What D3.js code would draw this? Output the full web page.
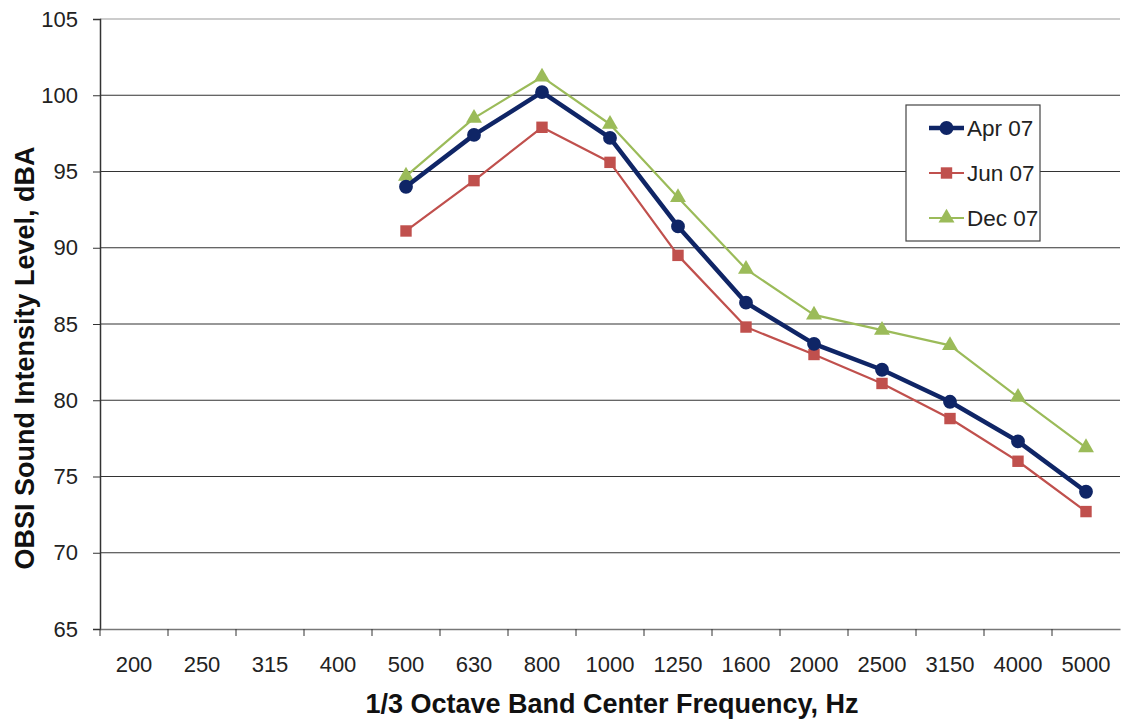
<!DOCTYPE html>
<html><head><meta charset="utf-8">
<script src="https://cdn.jsdelivr.net/npm/d3@7"></script>
<style>body{margin:0;background:#fff}svg{display:block;font-family:"Liberation Sans",Arial,sans-serif}</style>
</head><body><svg id="c" width="1121" height="722"></svg>
<script>
const categories = ["200","250","315","400","500","630","800","1000","1250","1600","2000","2500","3150","4000","5000"];
const yTicks = [65,70,75,80,85,90,95,100,105];
const apr07 = [null,null,null,null,94.0,97.4,100.2,97.2,91.4,86.4,83.7,82.0,79.9,77.3,74.0];
const jun07 = [null,null,null,null,91.1,94.4,97.9,95.6,89.5,84.8,83.0,81.1,78.8,76.0,72.7];
const dec07 = [null,null,null,null,94.7,98.5,101.2,98.1,93.3,88.6,85.6,84.6,83.6,80.2,76.9];
const seriesNames = ["Apr 07","Jun 07","Dec 07"];

const svg = d3.select("#c");
const L = 100, R = 1120, T = 19, B = 629;
const x = d3.scaleBand().domain(categories).range([L, R]);
const y = d3.scaleLinear().domain([65,105]).range([B, T]);

// gridlines
svg.append("g").selectAll("line").data(yTicks.filter(d=>d>65)).join("line")
  .attr("x1", L).attr("x2", R).attr("y1", d=>y(d)).attr("y2", d=>y(d))
  .attr("stroke", d=> d===105 ? "#999" : "#333").attr("stroke-width", 1.2);

// y axis
const ya = svg.append("g").attr("transform", `translate(${L},0)`)
  .call(d3.axisLeft(y).tickValues(yTicks).tickSize(7).tickPadding(15));
ya.select(".domain").attr("stroke","#333").attr("stroke-width",1.5);
ya.selectAll(".tick line").attr("stroke","#333");
ya.selectAll("text").attr("font-size",22).attr("fill","#222").attr("font-family","Liberation Sans, Arial, sans-serif");

// x axis
const xa = svg.append("g").attr("transform", `translate(0,${B})`)
  .call(d3.axisBottom(x).tickSize(0).tickPadding(27));
xa.select(".domain").attr("stroke","#777").attr("stroke-width",1.5);
xa.selectAll("text").attr("font-size",22).attr("fill","#222").attr("font-family","Liberation Sans, Arial, sans-serif");
// boundary ticks
const bounds = categories.map(c=>x(c));
svg.append("g").selectAll("line").data(bounds).join("line")
  .attr("x1", d=>d).attr("x2", d=>d).attr("y1", B).attr("y2", B+7).attr("stroke","#333");

// axis titles
svg.append("text").attr("x", 612).attr("y", 713).attr("text-anchor","middle")
  .attr("font-size",27).attr("font-weight","bold").attr("fill","#111")
  .text("1/3 Octave Band Center Frequency, Hz");
svg.append("text").attr("transform", `translate(34,358) rotate(-90)`).attr("text-anchor","middle")
  .attr("font-size",27).attr("font-weight","bold").attr("fill","#111")
  .text("OBSI Sound Intensity Level, dBA");

const series = [
  {name: seriesNames[0], values: apr07, color:"#0F2566", width:4.5, marker:"circle"},
  {name: seriesNames[1], values: jun07, color:"#C0504D", width:2.2, marker:"square"},
  {name: seriesNames[2], values: dec07, color:"#9BBB59", width:2.2, marker:"triangle"}
];
const cx = c => x(c) + x.bandwidth()/2;
const line = d3.line().defined(d=>d.v!=null).x(d=>cx(d.c)).y(d=>y(d.v));
const symFor = {circle: d3.symbolCircle, square: d3.symbolSquare, triangle: d3.symbolTriangle};
const sizeFor = {circle: 150, square: 130, triangle: 110};

function drawSeries(s){
  const pts = categories.map((c,i)=>({c, v:s.values[i]}));
  svg.append("path").datum(pts).attr("d", line).attr("fill","none")
    .attr("stroke", s.color).attr("stroke-width", s.width).attr("stroke-linejoin","round");
  svg.append("g").selectAll("path").data(pts.filter(d=>d.v!=null)).join("path")
    .attr("transform", d=>`translate(${cx(d.c)},${y(d.v)})`)
    .attr("d", d3.symbol().type(symFor[s.marker]).size(sizeFor[s.marker]))
    .attr("fill", s.color);
}
drawSeries(series[2]); drawSeries(series[1]); drawSeries(series[0]);

// legend
const lg = svg.append("g");
lg.append("rect").attr("x",906).attr("y",105).attr("width",134).attr("height",136)
  .attr("fill","#fff").attr("stroke","#444").attr("stroke-width",1.2);
series.forEach((s,i)=>{
  const yy = 128 + i*45;
  lg.append("line").attr("x1",929).attr("x2",964).attr("y1",yy).attr("y2",yy)
    .attr("stroke",s.color).attr("stroke-width",s.width);
  lg.append("path").attr("transform",`translate(946.5,${yy})`)
    .attr("d", d3.symbol().type(symFor[s.marker]).size(sizeFor[s.marker])).attr("fill",s.color);
  lg.append("text").attr("x",967).attr("y",yy+8).attr("font-size",22.5).attr("fill","#222").text(s.name);
});
</script></body></html>
